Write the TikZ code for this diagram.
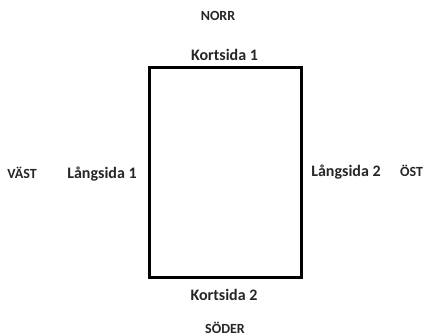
\documentclass[tikz,border=0pt]{standalone}
\usepackage{fontspec}
\setmainfont{Carlito}
\begin{document}
\begin{tikzpicture}[x=1pt,y=-1pt,
  dir/.style={anchor=base,inner sep=0pt,font=\fontsize{14}{16}\selectfont\bfseries,text=black!85},
  side/.style={anchor=base,inner sep=0pt,font=\fontsize{16}{18}\selectfont\bfseries,text=black!85}]
\useasboundingbox (0,0) rectangle (427,336);
\draw[line width=3pt] (149.5,68) rectangle (301.5,277.5);
\node[dir] (n) at (218,21) {NORR};
\node[side] (k1) at (224.5,61) {Kortsida 1};
\node[dir] (v) at (22,179) {VÄST};
\node[side] (l1) at (102,179) {Långsida 1};
\node[side] (l2) at (346,177) {Långsida 2};
\node[dir] (o) at (411.5,177) {ÖST};
\node[side] (k2) at (224,300.5) {Kortsida 2};
\node[dir] (s) at (225,333) {SÖDER};
\end{tikzpicture}
\end{document}
